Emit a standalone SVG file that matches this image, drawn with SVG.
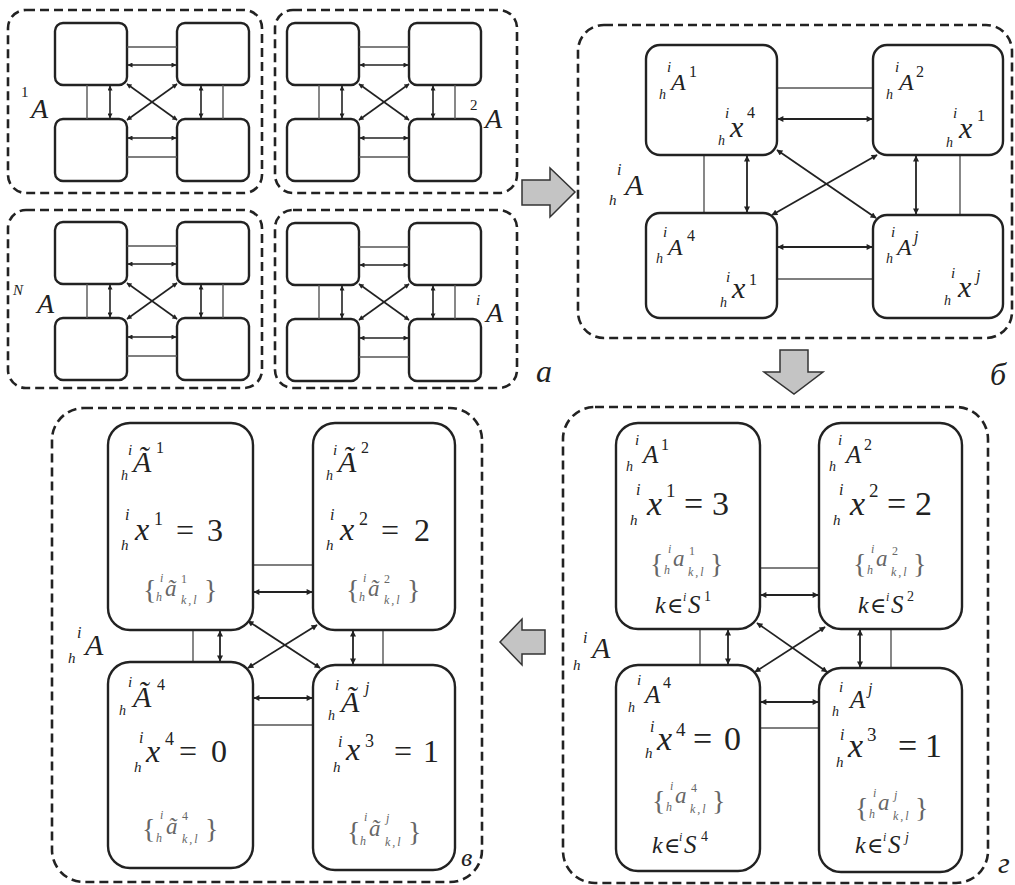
<svg xmlns="http://www.w3.org/2000/svg" width="1015" height="885" viewBox="0 0 1015 885">
<style>
.panel{fill:none;stroke:#222;stroke-width:2.6;stroke-dasharray:9 5}
.nd{fill:#fff;stroke:#222;stroke-width:2.4}
.ln{stroke:#555;stroke-width:1.4;fill:none}
.ar{stroke:#222;stroke-width:1.8;fill:none;marker-start:url(#ah);marker-end:url(#ah)}
.ars{stroke:#222;stroke-width:1.6;fill:none;marker-start:url(#ahs);marker-end:url(#ahs)}
.blk{fill:#c4c4c4;stroke:#333;stroke-width:1.5}
text{font-family:"Liberation Serif","DejaVu Serif",serif;font-style:italic;fill:#222}
.r{font-style:normal}
.g{fill:#666}
.kl{letter-spacing:2px}
</style>
<defs>
<marker id="ah" viewBox="0 0 10 10" refX="9" refY="5" markerWidth="8" markerHeight="6" markerUnits="userSpaceOnUse" orient="auto-start-reverse"><path d="M0,0 L10,5 L0,10 z" fill="#222"/></marker>
<marker id="ahs" viewBox="0 0 10 10" refX="9" refY="5" markerWidth="6" markerHeight="5" markerUnits="userSpaceOnUse" orient="auto-start-reverse"><path d="M0,0 L10,5 L0,10 z" fill="#222"/></marker>
</defs>

<g id="panel-a">
<rect class="panel" x="8" y="10" width="254" height="183" rx="18"/>
<rect class="panel" x="275" y="10" width="242" height="183" rx="18"/>
<rect class="panel" x="8" y="210" width="254" height="178" rx="18"/>
<rect class="panel" x="275" y="210" width="242" height="178" rx="18"/>
<text x="21" y="97" font-size="15" class="r">1</text><text x="31" y="118" font-size="28">A</text>
<text x="470" y="110" font-size="15" class="r">2</text><text x="485" y="128" font-size="28">A</text>
<text x="13" y="295" font-size="15">N</text><text x="37" y="313" font-size="28">A</text>
<text x="476" y="305" font-size="15">i</text><text x="486" y="322" font-size="28">A</text>
<text x="536" y="382" font-size="32">а</text>
</g>

<g id="a1" transform="translate(55,23)">
<g id="a1-n1"><rect class="nd" x="0" y="0" width="72" height="62" rx="8"/></g>
<g id="a1-n2"><rect class="nd" x="122" y="0" width="72" height="62" rx="8"/></g>
<g id="a1-n3"><rect class="nd" x="0" y="96" width="72" height="62" rx="8"/></g>
<g id="a1-n4"><rect class="nd" x="122" y="96" width="72" height="62" rx="8"/></g>
<g id="a1-conn">
<line class="ln" x1="72" y1="24" x2="122" y2="24"/><line class="ars" x1="73" y1="42" x2="121" y2="42"/>
<line class="ars" x1="73" y1="115" x2="121" y2="115"/><line class="ln" x1="72" y1="134" x2="122" y2="134"/>
<line class="ln" x1="32" y1="62" x2="32" y2="96"/><line class="ars" x1="55" y1="63" x2="55" y2="95"/>
<line class="ars" x1="146" y1="63" x2="146" y2="95"/><line class="ln" x1="168" y1="62" x2="168" y2="96"/>
<line class="ars" x1="72" y1="61" x2="122" y2="97"/><line class="ars" x1="72" y1="97" x2="122" y2="61"/>
</g>
</g>
<g id="a2" transform="translate(287,23)">
<g id="a2-n1"><rect class="nd" x="0" y="0" width="72" height="62" rx="8"/></g>
<g id="a2-n2"><rect class="nd" x="122" y="0" width="72" height="62" rx="8"/></g>
<g id="a2-n3"><rect class="nd" x="0" y="96" width="72" height="62" rx="8"/></g>
<g id="a2-n4"><rect class="nd" x="122" y="96" width="72" height="62" rx="8"/></g>
<g id="a2-conn">
<line class="ln" x1="72" y1="24" x2="122" y2="24"/><line class="ars" x1="73" y1="42" x2="121" y2="42"/>
<line class="ars" x1="73" y1="115" x2="121" y2="115"/><line class="ln" x1="72" y1="134" x2="122" y2="134"/>
<line class="ln" x1="32" y1="62" x2="32" y2="96"/><line class="ars" x1="55" y1="63" x2="55" y2="95"/>
<line class="ars" x1="146" y1="63" x2="146" y2="95"/><line class="ln" x1="168" y1="62" x2="168" y2="96"/>
<line class="ars" x1="72" y1="61" x2="122" y2="97"/><line class="ars" x1="72" y1="97" x2="122" y2="61"/>
</g>
</g>
<g id="a3" transform="translate(55,222)">
<g id="a3-n1"><rect class="nd" x="0" y="0" width="72" height="62" rx="8"/></g>
<g id="a3-n2"><rect class="nd" x="122" y="0" width="72" height="62" rx="8"/></g>
<g id="a3-n3"><rect class="nd" x="0" y="96" width="72" height="62" rx="8"/></g>
<g id="a3-n4"><rect class="nd" x="122" y="96" width="72" height="62" rx="8"/></g>
<g id="a3-conn">
<line class="ln" x1="72" y1="24" x2="122" y2="24"/><line class="ars" x1="73" y1="42" x2="121" y2="42"/>
<line class="ars" x1="73" y1="115" x2="121" y2="115"/><line class="ln" x1="72" y1="134" x2="122" y2="134"/>
<line class="ln" x1="32" y1="62" x2="32" y2="96"/><line class="ars" x1="55" y1="63" x2="55" y2="95"/>
<line class="ars" x1="146" y1="63" x2="146" y2="95"/><line class="ln" x1="168" y1="62" x2="168" y2="96"/>
<line class="ars" x1="72" y1="61" x2="122" y2="97"/><line class="ars" x1="72" y1="97" x2="122" y2="61"/>
</g>
</g>
<g id="a4" transform="translate(287,223)">
<g id="a4-n1"><rect class="nd" x="0" y="0" width="72" height="62" rx="8"/></g>
<g id="a4-n2"><rect class="nd" x="122" y="0" width="72" height="62" rx="8"/></g>
<g id="a4-n3"><rect class="nd" x="0" y="96" width="72" height="62" rx="8"/></g>
<g id="a4-n4"><rect class="nd" x="122" y="96" width="72" height="62" rx="8"/></g>
<g id="a4-conn">
<line class="ln" x1="72" y1="24" x2="122" y2="24"/><line class="ars" x1="73" y1="42" x2="121" y2="42"/>
<line class="ars" x1="73" y1="115" x2="121" y2="115"/><line class="ln" x1="72" y1="134" x2="122" y2="134"/>
<line class="ln" x1="32" y1="62" x2="32" y2="96"/><line class="ars" x1="55" y1="63" x2="55" y2="95"/>
<line class="ars" x1="146" y1="63" x2="146" y2="95"/><line class="ln" x1="168" y1="62" x2="168" y2="96"/>
<line class="ars" x1="72" y1="61" x2="122" y2="97"/><line class="ars" x1="72" y1="97" x2="122" y2="61"/>
</g>
</g>

<g id="block-arrows">
<path class="blk" d="M522,180 L550,180 L550,168 L575,192 L550,217 L550,205 L522,205 Z"/>
<path class="blk" d="M780,350 L808,350 L808,372 L823,372 L794,394 L764,372 L780,372 Z"/>
<path class="blk" d="M545,630 L522,630 L522,619 L500,642 L522,665 L522,654 L545,654 Z"/>
</g>

<g id="panel-b">
<rect class="panel" x="578" y="25" width="434" height="313" rx="26"/>
<text><tspan x="617" y="175" font-size="16">i</tspan><tspan x="609" y="205" font-size="15">h</tspan><tspan x="625" y="195" font-size="30">A</tspan></text>
<text x="990" y="385" font-size="32">б</text>
</g>
<g id="b-conn">
<line class="ln" x1="777" y1="88" x2="873" y2="88"/><line class="ar" x1="778" y1="119" x2="872" y2="119"/>
<line class="ar" x1="778" y1="247" x2="872" y2="247"/><line class="ln" x1="777" y1="279" x2="873" y2="279"/>
<line class="ln" x1="704" y1="155" x2="704" y2="213"/><line class="ar" x1="747" y1="156" x2="747" y2="212"/>
<line class="ar" x1="916" y1="156" x2="916" y2="214"/><line class="ln" x1="960" y1="155" x2="960" y2="215"/>
<line class="ar" x1="777" y1="150" x2="876" y2="218"/><line class="ar" x1="772" y1="215" x2="877" y2="155"/>
</g>
<g id="b-n1"><rect class="nd" x="646" y="45" width="131" height="110" rx="14"/>
<text><tspan x="667" y="72" font-size="15">i</tspan><tspan x="659" y="99" font-size="14">h</tspan><tspan x="671" y="90" font-size="24">A</tspan><tspan class="r" x="689" y="77" font-size="16">1</tspan></text>
<text><tspan x="725" y="118" font-size="15">i</tspan><tspan x="718" y="145" font-size="14">h</tspan><tspan x="730" y="137" font-size="30">x</tspan><tspan class="r" x="747" y="118" font-size="16">4</tspan></text>
</g>
<g id="b-n2"><rect class="nd" x="873" y="45" width="130" height="110" rx="14"/>
<text><tspan x="895" y="72" font-size="15">i</tspan><tspan x="886" y="99" font-size="14">h</tspan><tspan x="899" y="90" font-size="24">A</tspan><tspan class="r" x="916" y="77" font-size="16">2</tspan></text>
<text><tspan x="953" y="118" font-size="15">i</tspan><tspan x="946" y="147" font-size="14">h</tspan><tspan x="959" y="138" font-size="30">x</tspan><tspan class="r" x="977" y="121" font-size="16">1</tspan></text>
</g>
<g id="b-n3"><rect class="nd" x="646" y="213" width="131" height="105" rx="14"/>
<text><tspan x="663" y="237" font-size="15">i</tspan><tspan x="656" y="263" font-size="14">h</tspan><tspan x="668" y="255" font-size="24">A</tspan><tspan class="r" x="687" y="241" font-size="16">4</tspan></text>
<text><tspan x="726" y="282" font-size="15">i</tspan><tspan x="720" y="307" font-size="14">h</tspan><tspan x="732" y="298" font-size="30">x</tspan><tspan class="r" x="749" y="285" font-size="16">1</tspan></text>
</g>
<g id="b-n4"><rect class="nd" x="873" y="215" width="130" height="103" rx="14"/>
<text><tspan x="891" y="237" font-size="15">i</tspan><tspan x="886" y="263" font-size="14">h</tspan><tspan x="897" y="255" font-size="24">A</tspan><tspan x="914" y="242" font-size="16">j</tspan></text>
<text><tspan x="951" y="278" font-size="15">i</tspan><tspan x="944" y="305" font-size="14">h</tspan><tspan x="958" y="297" font-size="30">x</tspan><tspan x="976" y="281" font-size="16">j</tspan></text>
</g>

<g id="panel-g">
<rect class="panel" x="563" y="407" width="425" height="476" rx="32"/>
<text><tspan x="583" y="643" font-size="16">i</tspan><tspan x="573" y="670" font-size="15">h</tspan><tspan x="592" y="658" font-size="30">A</tspan></text>
<text x="998" y="873" font-size="30">г</text>
</g>
<g id="g-conn">
<line class="ln" x1="760" y1="568" x2="819" y2="568"/><line class="ar" x1="761" y1="595" x2="818" y2="595"/>
<line class="ar" x1="761" y1="702" x2="818" y2="702"/><line class="ln" x1="760" y1="728" x2="819" y2="728"/>
<line class="ln" x1="700" y1="629" x2="700" y2="665"/><line class="ar" x1="728" y1="630" x2="728" y2="664"/>
<line class="ar" x1="860" y1="630" x2="860" y2="667"/><line class="ln" x1="891" y1="629" x2="891" y2="668"/>
<line class="ar" x1="757" y1="623" x2="827" y2="672"/><line class="ar" x1="755" y1="672" x2="825" y2="627"/>
</g>
<g id="g-n1"><rect class="nd" x="616" y="423" width="144" height="206" rx="22"/>
<text><tspan x="635" y="445" font-size="15">i</tspan><tspan x="626" y="471" font-size="14">h</tspan><tspan x="643" y="463" font-size="25">A</tspan><tspan class="r" x="661" y="450" font-size="16">1</tspan></text>
<text><tspan x="636" y="495" font-size="16">i</tspan><tspan x="630" y="525" font-size="15">h</tspan><tspan x="647" y="515" font-size="34">x</tspan><tspan class="r" x="666" y="497" font-size="19">1</tspan><tspan class="r" x="684" y="515" font-size="34">=</tspan><tspan class="r" x="712" y="515" font-size="34">3</tspan></text>
<text class="g"><tspan class="r" x="650" y="573" font-size="28">{</tspan><tspan x="668" y="553" font-size="12">i</tspan><tspan x="664" y="574" font-size="12">h</tspan><tspan x="673" y="566" font-size="23">a</tspan><tspan class="r" x="689" y="555" font-size="12">1</tspan><tspan class="kl" x="688" y="576" font-size="12">k,l</tspan><tspan class="r" x="710" y="573" font-size="28">}</tspan></text>
<text><tspan x="655" y="613" font-size="24">k</tspan><tspan class="r" x="667" y="613" font-size="22">∈</tspan><tspan x="683" y="601" font-size="12">i</tspan><tspan x="688" y="613" font-size="25">S</tspan><tspan class="r" x="704" y="601" font-size="14">1</tspan></text>
</g>
<g id="g-n2"><rect class="nd" x="819" y="423" width="143" height="206" rx="22"/>
<text><tspan x="838" y="445" font-size="15">i</tspan><tspan x="829" y="471" font-size="14">h</tspan><tspan x="846" y="463" font-size="25">A</tspan><tspan class="r" x="864" y="450" font-size="16">2</tspan></text>
<text><tspan x="839" y="495" font-size="16">i</tspan><tspan x="833" y="525" font-size="15">h</tspan><tspan x="850" y="515" font-size="34">x</tspan><tspan class="r" x="869" y="497" font-size="19">2</tspan><tspan class="r" x="887" y="515" font-size="34">=</tspan><tspan class="r" x="915" y="515" font-size="34">2</tspan></text>
<text class="g"><tspan class="r" x="853" y="573" font-size="28">{</tspan><tspan x="871" y="553" font-size="12">i</tspan><tspan x="867" y="574" font-size="12">h</tspan><tspan x="876" y="566" font-size="23">a</tspan><tspan class="r" x="892" y="555" font-size="12">2</tspan><tspan class="kl" x="891" y="576" font-size="12">k,l</tspan><tspan class="r" x="913" y="573" font-size="28">}</tspan></text>
<text><tspan x="858" y="613" font-size="24">k</tspan><tspan class="r" x="870" y="613" font-size="22">∈</tspan><tspan x="886" y="601" font-size="12">i</tspan><tspan x="891" y="613" font-size="25">S</tspan><tspan class="r" x="907" y="601" font-size="14">2</tspan></text>
</g>
<g id="g-n3"><rect class="nd" x="616" y="665" width="144" height="206" rx="22"/>
<text><tspan x="637" y="685" font-size="15">i</tspan><tspan x="628" y="712" font-size="14">h</tspan><tspan x="645" y="703" font-size="25">A</tspan><tspan class="r" x="663" y="688" font-size="16">4</tspan></text>
<text><tspan x="650" y="732" font-size="16">i</tspan><tspan x="645" y="758" font-size="15">h</tspan><tspan x="657" y="750" font-size="34">x</tspan><tspan class="r" x="676" y="736" font-size="19">4</tspan><tspan class="r" x="693" y="750" font-size="34">=</tspan><tspan class="r" x="724" y="750" font-size="34">0</tspan></text>
<text class="g"><tspan class="r" x="652" y="810" font-size="28">{</tspan><tspan x="670" y="790" font-size="12">i</tspan><tspan x="666" y="811" font-size="12">h</tspan><tspan x="675" y="803" font-size="23">a</tspan><tspan class="r" x="691" y="792" font-size="12">4</tspan><tspan class="kl" x="690" y="813" font-size="12">k,l</tspan><tspan class="r" x="712" y="810" font-size="28">}</tspan></text>
<text><tspan x="652" y="853" font-size="24">k</tspan><tspan class="r" x="664" y="853" font-size="22">∈</tspan><tspan x="679" y="841" font-size="12">i</tspan><tspan x="684" y="853" font-size="25">S</tspan><tspan class="r" x="701" y="841" font-size="14">4</tspan></text>
</g>
<g id="g-n4"><rect class="nd" x="819" y="668" width="143" height="204" rx="22"/>
<text><tspan x="839" y="692" font-size="15">i</tspan><tspan x="832" y="716" font-size="14">h</tspan><tspan x="850" y="708" font-size="25">A</tspan><tspan x="868" y="694" font-size="16">j</tspan></text>
<text><tspan x="840" y="740" font-size="16">i</tspan><tspan x="836" y="767" font-size="15">h</tspan><tspan x="848" y="757" font-size="34">x</tspan><tspan class="r" x="867" y="741" font-size="19">3</tspan><tspan class="r" x="898" y="757" font-size="34">=</tspan><tspan class="r" x="925" y="757" font-size="34">1</tspan></text>
<text class="g"><tspan class="r" x="855" y="817" font-size="28">{</tspan><tspan x="873" y="797" font-size="12">i</tspan><tspan x="869" y="818" font-size="12">h</tspan><tspan x="878" y="810" font-size="23">a</tspan><tspan x="894" y="799" font-size="12">j</tspan><tspan class="kl" x="893" y="820" font-size="12">k,l</tspan><tspan class="r" x="915" y="817" font-size="28">}</tspan></text>
<text><tspan x="855" y="853" font-size="24">k</tspan><tspan class="r" x="867" y="853" font-size="22">∈</tspan><tspan x="883" y="841" font-size="12">i</tspan><tspan x="888" y="853" font-size="25">S</tspan><tspan x="905" y="842" font-size="14">j</tspan></text>
</g>

<g id="panel-v">
<rect class="panel" x="52" y="408" width="430" height="474" rx="32"/>
<text><tspan x="77" y="638" font-size="16">i</tspan><tspan x="68" y="663" font-size="15">h</tspan><tspan x="85" y="655" font-size="30">A</tspan></text>
<text x="461" y="866" font-size="26">в</text>
</g>
<g id="v-conn">
<line class="ln" x1="253" y1="565" x2="313" y2="565"/><line class="ar" x1="254" y1="592" x2="312" y2="592"/>
<line class="ar" x1="254" y1="698" x2="312" y2="698"/><line class="ln" x1="253" y1="725" x2="313" y2="725"/>
<line class="ln" x1="193" y1="630" x2="193" y2="662"/><line class="ar" x1="220" y1="631" x2="220" y2="661"/>
<line class="ar" x1="353" y1="631" x2="353" y2="664"/><line class="ln" x1="383" y1="630" x2="383" y2="665"/>
<line class="ar" x1="248" y1="621" x2="320" y2="668"/><line class="ar" x1="248" y1="668" x2="317" y2="625"/>
</g>
<g id="v-n1"><rect class="nd" x="108" y="423" width="145" height="207" rx="22"/>
<text><tspan x="128" y="455" font-size="15">i</tspan><tspan x="121" y="480" font-size="14">h</tspan><tspan x="133" y="472" font-size="30">Ã</tspan><tspan class="r" x="156" y="453" font-size="16">1</tspan></text>
<text><tspan x="125" y="520" font-size="16">i</tspan><tspan x="121" y="550" font-size="15">h</tspan><tspan x="135" y="540" font-size="32">x</tspan><tspan class="r" x="154" y="525" font-size="18">1</tspan><tspan class="r" x="176" y="541" font-size="32">=</tspan><tspan class="r" x="207" y="541" font-size="32">3</tspan></text>
<text class="g"><tspan class="r" x="143" y="599" font-size="28">{</tspan><tspan x="160" y="582" font-size="12">i</tspan><tspan x="156" y="601" font-size="12">h</tspan><tspan x="165" y="596" font-size="23">ã</tspan><tspan class="r" x="181" y="583" font-size="12">1</tspan><tspan class="kl" x="181" y="604" font-size="12">k,l</tspan><tspan class="r" x="204" y="599" font-size="28">}</tspan></text>
</g>
<g id="v-n2"><rect class="nd" x="313" y="423" width="142" height="207" rx="22"/>
<text><tspan x="333" y="455" font-size="15">i</tspan><tspan x="326" y="480" font-size="14">h</tspan><tspan x="338" y="472" font-size="30">Ã</tspan><tspan class="r" x="361" y="453" font-size="16">2</tspan></text>
<text><tspan x="330" y="520" font-size="16">i</tspan><tspan x="326" y="550" font-size="15">h</tspan><tspan x="340" y="540" font-size="32">x</tspan><tspan class="r" x="359" y="525" font-size="18">2</tspan><tspan class="r" x="381" y="541" font-size="32">=</tspan><tspan class="r" x="414" y="541" font-size="32">2</tspan></text>
<text class="g"><tspan class="r" x="346" y="599" font-size="28">{</tspan><tspan x="363" y="582" font-size="12">i</tspan><tspan x="359" y="601" font-size="12">h</tspan><tspan x="368" y="596" font-size="23">ã</tspan><tspan class="r" x="384" y="583" font-size="12">2</tspan><tspan class="kl" x="384" y="604" font-size="12">k,l</tspan><tspan class="r" x="407" y="599" font-size="28">}</tspan></text>
</g>
<g id="v-n3"><rect class="nd" x="108" y="662" width="145" height="206" rx="22"/>
<text><tspan x="128" y="687" font-size="15">i</tspan><tspan x="119" y="715" font-size="14">h</tspan><tspan x="133" y="707" font-size="30">Ã</tspan><tspan class="r" x="157" y="690" font-size="16">4</tspan></text>
<text><tspan x="139" y="743" font-size="16">i</tspan><tspan x="134" y="772" font-size="15">h</tspan><tspan x="146" y="762" font-size="32">x</tspan><tspan class="r" x="165" y="745" font-size="18">4</tspan><tspan class="r" x="179" y="762" font-size="32">=</tspan><tspan class="r" x="211" y="762" font-size="32">0</tspan></text>
<text class="g"><tspan class="r" x="142" y="838" font-size="28">{</tspan><tspan x="160" y="819" font-size="12">i</tspan><tspan x="156" y="842" font-size="12">h</tspan><tspan x="166" y="834" font-size="23">ã</tspan><tspan class="r" x="182" y="820" font-size="12">4</tspan><tspan class="kl" x="182" y="843" font-size="12">k,l</tspan><tspan class="r" x="205" y="838" font-size="28">}</tspan></text>
</g>
<g id="v-n4"><rect class="nd" x="313" y="665" width="142" height="205" rx="22"/>
<text><tspan x="335" y="690" font-size="15">i</tspan><tspan x="328" y="720" font-size="14">h</tspan><tspan x="341" y="712" font-size="30">Ã</tspan><tspan x="365" y="693" font-size="16">j</tspan></text>
<text><tspan x="338" y="747" font-size="16">i</tspan><tspan x="333" y="772" font-size="15">h</tspan><tspan x="346" y="760" font-size="32">x</tspan><tspan class="r" x="365" y="747" font-size="18">3</tspan><tspan class="r" x="394" y="762" font-size="32">=</tspan><tspan class="r" x="423" y="762" font-size="32">1</tspan></text>
<text class="g"><tspan class="r" x="347" y="841" font-size="28">{</tspan><tspan x="364" y="821" font-size="12">i</tspan><tspan x="360" y="845" font-size="12">h</tspan><tspan x="369" y="836" font-size="23">ã</tspan><tspan x="386" y="822" font-size="12">j</tspan><tspan class="kl" x="385" y="846" font-size="12">k,l</tspan><tspan class="r" x="408" y="841" font-size="28">}</tspan></text>
</g>
</svg>
